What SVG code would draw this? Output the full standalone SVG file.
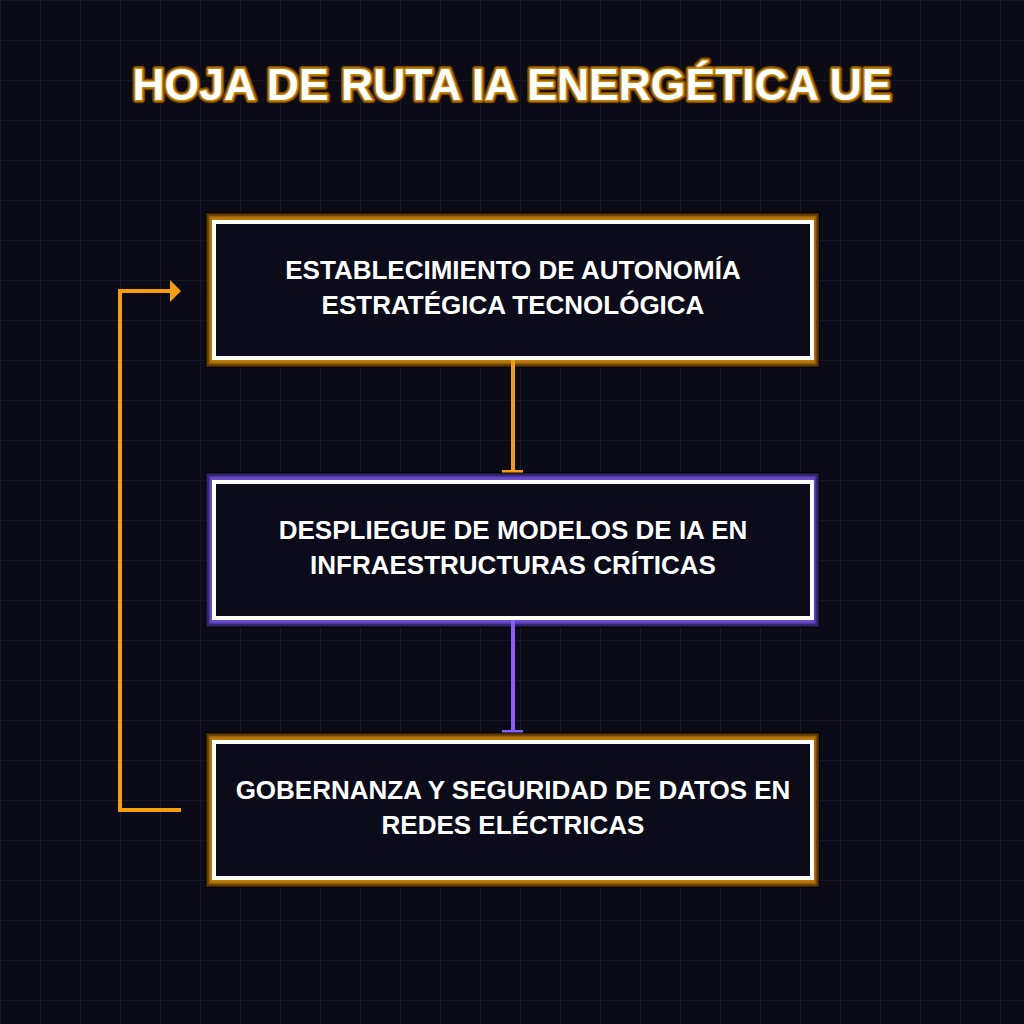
<svg xmlns="http://www.w3.org/2000/svg" width="1024" height="1024" viewBox="0 0 1024 1024">
<defs>
<pattern id="grid" width="40" height="40" patternUnits="userSpaceOnUse">
<path d="M0.5 0V40M0 0.5H40" fill="none" stroke="#171729" stroke-width="1"/>
</pattern>
</defs>
<style>
.title{font-family:"Liberation Sans",Arial,sans-serif;font-weight:bold;font-size:44.5px;text-anchor:middle}
.lbl{font-family:"Liberation Sans",Arial,sans-serif;font-weight:bold;font-size:26px;fill:#ffffff;text-anchor:middle}
.inner{fill:#0b0b1a;stroke:#ffffff;stroke-width:4}
.sh{fill:#000000}
.o1{fill:#3e2804}.o2{fill:#6e4706}.o3{fill:#9a6308}.o4{fill:#bb7a0a}
.p1{fill:#221a45}.p2{fill:#35287a}.p3{fill:#4e3aa6}.p4{fill:#6a4ccc}
.co{stroke:#f59e0b;stroke-width:4;fill:none}
.cp{stroke:#8b5cf6;stroke-width:4;fill:none}
</style>
<rect width="1024" height="1024" fill="#0b0b18"/>
<rect width="1024" height="1024" fill="url(#grid)"/>
<g id="title">
<text class="title" x="512" y="100" fill="none" stroke="#1a0f00" stroke-width="8" stroke-linejoin="round">HOJA DE RUTA IA ENERGÉTICA UE</text>
<text class="title" x="512" y="100" fill="none" stroke="#7a4c05" stroke-width="6" stroke-linejoin="round">HOJA DE RUTA IA ENERGÉTICA UE</text>
<text class="title" x="512" y="100" fill="#ffffff" stroke="#c98508" stroke-width="3" stroke-linejoin="round" paint-order="stroke">HOJA DE RUTA IA ENERGÉTICA UE</text>
</g>
<g id="node1">
<rect class="sh" x="205" y="212" width="615" height="156"/>
<rect class="o1" x="206" y="213" width="613" height="154"/>
<rect class="o2" x="207.5" y="214.5" width="610" height="151"/>
<rect class="o3" x="209" y="216" width="607" height="148"/>
<rect class="o4" x="210.5" y="217.5" width="604" height="145"/>
<rect class="inner" x="214" y="222" width="598" height="136"/>
<text class="lbl" x="513" y="279">ESTABLECIMIENTO DE AUTONOMÍA</text>
<text class="lbl" x="513" y="314">ESTRATÉGICA TECNOLÓGICA</text>
</g>
<g id="node2">
<rect class="sh" x="205" y="472" width="615" height="156"/>
<rect class="p1" x="206" y="473" width="613" height="154"/>
<rect class="p2" x="207.5" y="474.5" width="610" height="151"/>
<rect class="p3" x="209" y="476" width="607" height="148"/>
<rect class="p4" x="210.5" y="477.5" width="604" height="145"/>
<rect class="inner" x="214" y="482" width="598" height="136"/>
<text class="lbl" x="513" y="539">DESPLIEGUE DE MODELOS DE IA EN</text>
<text class="lbl" x="513" y="574">INFRAESTRUCTURAS CRÍTICAS</text>
</g>
<g id="node3">
<rect class="sh" x="205" y="732" width="615" height="156"/>
<rect class="o1" x="206" y="733" width="613" height="154"/>
<rect class="o2" x="207.5" y="734.5" width="610" height="151"/>
<rect class="o3" x="209" y="736" width="607" height="148"/>
<rect class="o4" x="210.5" y="737.5" width="604" height="145"/>
<rect class="inner" x="214" y="742" width="598" height="136"/>
<text class="lbl" x="513" y="799">GOBERNANZA Y SEGURIDAD DE DATOS EN</text>
<text class="lbl" x="513" y="834">REDES ELÉCTRICAS</text>
</g>
<g id="connectors">
<line class="co" x1="513" y1="360" x2="513" y2="471"/>
<rect x="502" y="470" width="21" height="2.5" fill="#f59e0b"/>
<line class="cp" x1="513" y1="620" x2="513" y2="731"/>
<rect x="502" y="730" width="21" height="2.5" fill="#8b5cf6"/>
<polyline class="co" points="181,810 120,810 120,291 171,291"/>
<polygon points="170,280 181,291 170,302" fill="#f59e0b"/>
</g>
</svg>
